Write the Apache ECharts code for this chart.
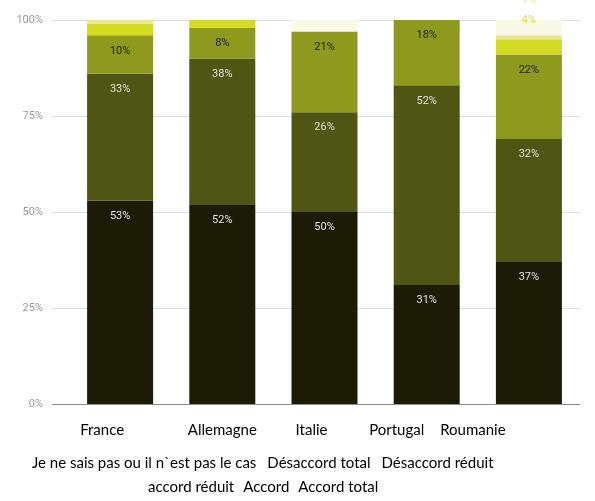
<!DOCTYPE html>
<html>
<head>
<meta charset="utf-8">
<script src="https://cdn.jsdelivr.net/npm/echarts@6/dist/echarts.min.js"></script>
<style>
  html, body { margin: 0; padding: 0; background: #fff; }
  #chart { width: 595px; height: 501px; }
</style>
</head>
<body>
<div id="chart"></div>
<script>
// Countries along the x axis
const countries = ["France", "Allemagne", "Italie", "Portugal", "Roumanie"];

// Answer categories, stacked bottom to top
const answers = [
  "Je ne sais pas ou il n`est pas le cas",
  "Désaccord total",
  "Désaccord réduit",
  "accord réduit",
  "Accord",
  "Accord total"
];

// Share of answers (%) per country, one array per answer category
const seriesA = [53, 52, 50, 31, 37];
const seriesB = [33, 38, 26, 52, 32];
const seriesC = [10, 8, 21, 18, 22];
const seriesD = [3, 2, 0, 0, 4];
const seriesE = [1, 0, 0, 0, 1];
const seriesF = [0, 0, 3, 0, 4];

// Value axis ticks
const yTicks = [0, 25, 50, 75, 100];

// ---- styling ----
const palette = ["#1b1b06", "#4f5513", "#8e9a1d", "#d3da24", "#e6ea8a", "#f9f9e6"];
const labelColors = ["#e2e2da", "#e2e2da", "#1e1e10"];
const xLabelShift = [18, 0, 13, 30, 56]; // px to move each country name left
const textFont = "Lato";

const values = [seriesA, seriesB, seriesC, seriesD, seriesE, seriesF];

// Labels drawn above the bar for a few thin segments
const outerLabels = {
  "2-5": { color: "#f1f1d4", offset: [0, -8] },
  "3-4": { color: "#d6dc4a", offset: [0, -8] },
  "4-4": { color: "#e2e69c", offset: [0, -25] }
};

const series = values.map((arr, si) => ({
  name: answers[si],
  type: "bar",
  stack: "total",
  xAxisIndex: 1,
  yAxisIndex: 1,
  barWidth: 66,
  itemStyle: { color: palette[si] },
  label: {
    show: si < 3,
    position: "insideTop",
    distance: 10,
    formatter: "{c}%",
    fontFamily: "Roboto",
    fontSize: 11,
    color: labelColors[si] || "#333"
  },
  data: arr.map((v, ci) => {
    const key = si + "-" + ci;
    if (outerLabels[key]) {
      return {
        value: v,
        label: {
          show: true,
          position: "top",
          distance: 5,
          offset: outerLabels[key].offset,
          color: outerLabels[key].color,
          fontFamily: "Roboto",
          fontSize: 11,
          formatter: "{c}%"
        }
      };
    }
    return v;
  })
}));

const rich = {};
xLabelShift.forEach((s, i) => {
  rich["c" + i] = {
    fontFamily: textFont,
    fontSize: 15,
    color: "#000",
    padding: [0, 2 * s, 0, 0]
  };
});

const legendText = { fontFamily: textFont, fontSize: 15, color: "#000" };

const option = {
  animation: false,
  backgroundColor: "#fff",
  grid: [
    { left: 52, right: 15, top: 20, bottom: 97 },
    { left: 69, right: 15, top: 20, bottom: 97 }
  ],
  xAxis: [
    {
      gridIndex: 0, type: "value", min: 0, max: 1, show: true,
      axisLine: { show: true, lineStyle: { color: "#8c8c8c", width: 1 } },
      axisTick: { show: false }, axisLabel: { show: false }, splitLine: { show: false }
    },
    {
      gridIndex: 1, type: "category", data: countries,
      axisLine: { show: false }, axisTick: { show: false },
      axisLabel: {
        margin: 19,
        interval: 0,
        formatter: (v, i) => "{c" + i + "|" + v + "}",
        rich: rich
      }
    }
  ],
  yAxis: [
    {
      gridIndex: 0, type: "value", min: yTicks[0], max: yTicks[yTicks.length - 1],
      interval: yTicks[1] - yTicks[0],
      axisLine: { show: false }, axisTick: { show: false },
      axisLabel: { formatter: "{value}%", color: "#9a9a9a", fontFamily: "Roboto", fontSize: 11, margin: 9 },
      splitLine: { lineStyle: { color: "#e0e0e0", width: 1 } }
    },
    {
      gridIndex: 1, type: "value", min: yTicks[0], max: yTicks[yTicks.length - 1],
      show: false, splitLine: { show: false }
    }
  ],
  legend: [
    {
      data: answers.slice(0, 3),
      top: 456, left: 27, padding: 0,
      itemWidth: 0, itemHeight: 0, itemGap: 6, icon: "rect",
      textStyle: legendText,
      selectedMode: false
    },
    {
      data: answers.slice(3),
      top: 480, left: 143, padding: 0,
      itemWidth: 0, itemHeight: 0, itemGap: 4, icon: "rect",
      textStyle: legendText,
      selectedMode: false
    }
  ],
  series: series
};

const chart = echarts.init(document.getElementById("chart"), null, { renderer: "canvas" });
chart.setOption(option);
</script>
</body>
</html>
